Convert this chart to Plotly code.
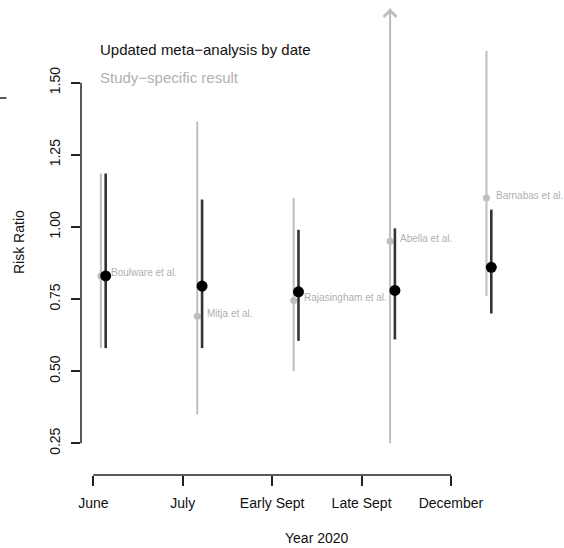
import plotly.graph_objects as go

# ---------------- data ----------------
categories = ["June", "July", "Early Sept", "Late Sept", "December"]
study_names = ["Boulware et al.", "Mitja et al.", "Rajasingham et al.", "Abella et al.", "Barnabas et al."]
study_rr = [0.83, 0.69, 0.745, 0.95, 1.10]
study_lo = [0.58, 0.35, 0.50, 0.25, 0.76]
study_hi = [1.185, 1.365, 1.10, 2.50, 1.61]   # Abella upper limit lies beyond the axis
meta_rr = [0.83, 0.795, 0.775, 0.78, 0.86]
meta_lo = [0.58, 0.58, 0.605, 0.61, 0.70]
meta_hi = [1.185, 1.095, 0.99, 0.995, 1.06]
y_ticks = [0.25, 0.50, 0.75, 1.00, 1.25, 1.50]
y_ticktext = ["0.25", "0.50", "0.75", "1.00", "1.25", "1.50"]

# ---------------- style ----------------
W, H = 564, 548
ML, MR, MT, MB = 81, 11, 5, 73
PW, PH = W - ML - MR, H - MT - MB
FONT = "Liberation Sans, Arial, sans-serif"
GRAY_LINE = "#bebebe"
GRAY_TEXT = "#b0b0b0"
DARK = "#222222"
Y_RANGE = [0.1402, 1.7692]
Y_CLIP = 1.757
GRAY_OFFSET = 0.05

idx = list(range(1, len(categories) + 1))
study_x = [i - GRAY_OFFSET for i in idx]
meta_x = idx


def segments(xs, lo, hi):
    X, Y = [], []
    for x, l, h in zip(xs, lo, hi):
        X += [x, x, None]
        Y += [l, min(h, Y_CLIP), None]
    return X, Y


def px_x(p):
    return (p - ML) / PW


def px_y(p):
    return (H - MB - p) / PH


fig = go.Figure()

sx, sy = segments(study_x, study_lo, study_hi)
fig.add_trace(go.Scatter(x=sx, y=sy, mode="lines", line=dict(color=GRAY_LINE, width=2),
                         hoverinfo="skip", showlegend=False))
fig.add_trace(go.Scatter(x=study_x, y=study_rr, mode="markers",
                         marker=dict(color=GRAY_LINE, size=7), showlegend=False))
mx, my = segments(meta_x, meta_lo, meta_hi)
fig.add_trace(go.Scatter(x=mx, y=my, mode="lines", line=dict(color="#333333", width=2.6),
                         hoverinfo="skip", showlegend=False))
fig.add_trace(go.Scatter(x=meta_x, y=meta_rr, mode="markers",
                         marker=dict(color="black", size=11), showlegend=False))
# carrier trace for the category tick axis
fig.add_trace(go.Scatter(x=idx, y=[None] * len(idx), xaxis="x2", yaxis="y", mode="markers",
                         hoverinfo="skip", showlegend=False))

annotations = []
for x, y, name in zip(study_x, study_rr, study_names):
    annotations.append(dict(x=x, y=y, xref="x", yref="y", text=name, showarrow=False,
                            xanchor="left", yanchor="middle", xshift=8, yshift=3,
                            font=dict(size=10, color=GRAY_TEXT, family=FONT)))
# arrows for limits beyond the axis
for x, r, h in zip(study_x, study_rr, study_hi):
    if h > Y_CLIP:
        annotations.append(dict(x=x, y=Y_CLIP, xref="x", yref="y", ax=x, ay=r,
                                axref="x", ayref="y", showarrow=True, arrowhead=4,
                                arrowsize=1.25, arrowwidth=2, arrowcolor=GRAY_LINE, text=""))

annotations += [
    dict(x=px_x(98), y=px_y(49), xref="paper", yref="paper", text="Updated meta\u2212analysis by date",
         showarrow=False, xanchor="left", yanchor="middle", font=dict(size=15, color="#111111", family=FONT)),
    dict(x=px_x(98), y=px_y(78), xref="paper", yref="paper", text="Study\u2212specific result",
         showarrow=False, xanchor="left", yanchor="middle", font=dict(size=15, color=GRAY_TEXT, family=FONT)),
    dict(x=px_x(19), y=px_y(242), xref="paper", yref="paper", text="Risk Ratio", textangle=-90,
         showarrow=False, xanchor="center", yanchor="middle", font=dict(size=14, color="#111111", family=FONT)),
    dict(x=px_x(317), y=px_y(538), xref="paper", yref="paper", text="Year 2020",
         showarrow=False, xanchor="center", yanchor="middle", font=dict(size=14, color="#111111", family=FONT)),
]

shapes = [
    dict(type="line", xref="paper", yref="y", x0=0, x1=0, y0=y_ticks[0], y1=y_ticks[-1],
         line=dict(color=DARK, width=1.5)),
    dict(type="line", xref="x2", yref="paper", x0=idx[0], x1=idx[-1], y0=0, y1=0,
         line=dict(color=DARK, width=1.5)),
    dict(type="line", xref="paper", yref="paper", x0=px_x(0), x1=px_x(6.5), y0=px_y(98), y1=px_y(98),
         line=dict(color=DARK, width=1.5)),
]

fig.update_layout(
    width=W, height=H,
    margin=dict(l=ML, r=MR, t=MT, b=MB),
    paper_bgcolor="white", plot_bgcolor="white",
    font=dict(family=FONT, color="#111111"),
    showlegend=False,
    xaxis=dict(range=[0.744, 5.640], visible=False, fixedrange=True),
    xaxis2=dict(range=[0.862, 6.141], overlaying="x", anchor="y", side="bottom",
                tickvals=idx, ticktext=categories, ticks="outside", ticklen=10, tickwidth=1.5,
                tickcolor=DARK, showline=False, showgrid=False, zeroline=False,
                ticklabelstandoff=5,
                tickfont=dict(size=14, color="#111111", family=FONT)),
    yaxis=dict(range=Y_RANGE, tickvals=y_ticks, ticktext=y_ticktext, tickangle=-90,
               ticks="outside", ticklen=9, tickwidth=1.5, tickcolor=DARK,
               showline=False, showgrid=False, zeroline=False, ticklabelstandoff=5,
               tickfont=dict(size=14, color="#111111", family=FONT)),
    annotations=annotations,
    shapes=shapes,
)

fig.write_html("out.html", config={"displayModeBar": False},
               post_script="document.body.style.margin='0';document.body.style.padding='0';")
